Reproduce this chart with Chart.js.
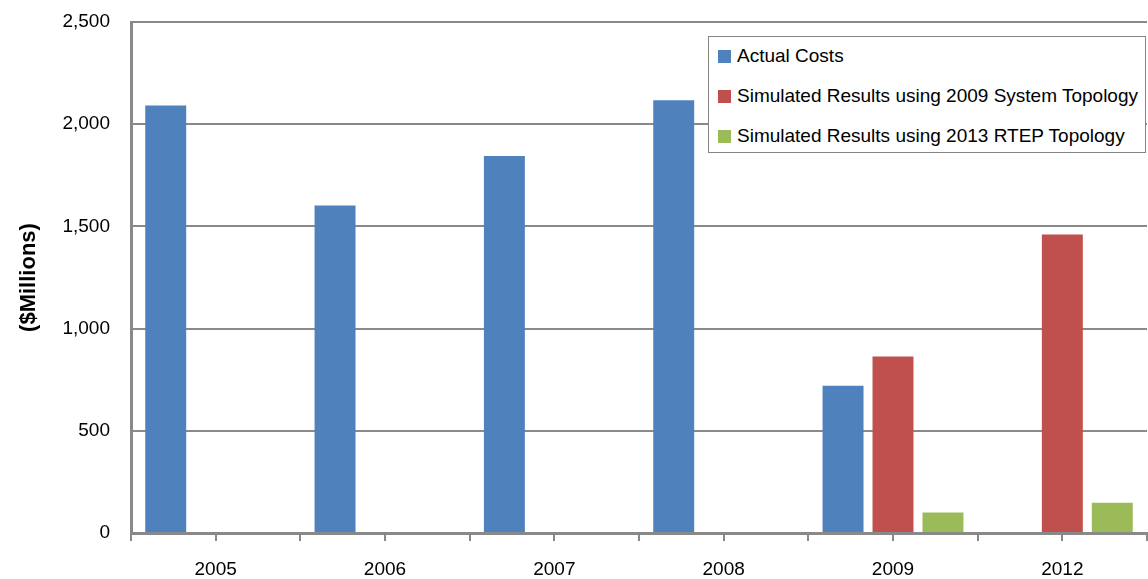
<!DOCTYPE html>
<html>
<head>
<meta charset="utf-8">
<script src="https://cdn.jsdelivr.net/npm/chart.js@4"></script>
<style>
  html, body { margin: 0; padding: 0; background: #fff; }
  #wrap { position: relative; width: 1148px; height: 579px; }
  #legend {
    position: absolute; left: 708px; top: 36px; width: 438px; height: 117px;
    border: 1px solid #858585; background: #fff; box-sizing: border-box;
    font-family: "Liberation Sans", Arial, sans-serif;
    font-size: 19px; color: #000; white-space: nowrap;
  }
  .row { display: flex; align-items: center; height: 40px; padding-left: 9px; }
  .row:first-child { margin-top: -1px; }
  .sw { width: 13px; height: 13px; margin-right: 6px; flex: none; }
</style>
</head>
<body>
<div id="wrap">
  <canvas id="chart" width="1148" height="579"></canvas>
  <div id="legend"></div>
</div>
<script>
const FONT = '"Liberation Sans", Arial, sans-serif';

const categories = ["2005", "2006", "2007", "2008", "2009", "2012"];
const actualCosts = [2092, 1602, 1845, 2117, 720, null];
const sim2009Topology = [null, null, null, null, 864, 1460];
const sim2013Rtep = [null, null, null, null, 100, 148];
const yTickValues = [0, 500, 1000, 1500, 2000, 2500];

const seriesNames = [
  "Actual Costs",
  "Simulated Results using 2009 System Topology",
  "Simulated Results using 2013 RTEP Topology",
];
const seriesColors = ["#4F81BD", "#C0504D", "#9BBB59"];
const gridGray = "#898989";

// extra tick marks under each category centre (reference has both)
const centerTicks = {
  id: "centerTicks",
  afterDraw(chart) {
    const x = chart.scales.x;
    const ctx = chart.ctx;
    ctx.save();
    ctx.strokeStyle = gridGray;
    ctx.lineWidth = 2;
    ctx.beginPath();
    x.ticks.forEach((t, i) => {
      const px = Math.round(x.getPixelForTick(i));
      ctx.moveTo(px, x.top);
      ctx.lineTo(px, x.top + 8);
    });
    ctx.stroke();
    ctx.restore();
  },
};

function buildLegend() {
  const el = document.getElementById("legend");
  el.innerHTML = seriesNames
    .map((n, i) => `<div class="row"><span class="sw" style="background:${seriesColors[i]}"></span>${n}</div>`)
    .join("");
}

function buildChart() {
  const ctx = document.getElementById("chart");
  const datasets = [actualCosts, sim2009Topology, sim2013Rtep].map((d, i) => ({
    label: seriesNames[i],
    data: d,
    backgroundColor: seriesColors[i],
    categoryPercentage: 0.885,
    barPercentage: 0.82,
  }));

  new Chart(ctx, {
    type: "bar",
    data: { labels: categories, datasets },
    plugins: [centerTicks],
    options: {
      responsive: false,
      animation: false,
      devicePixelRatio: 1,
      layout: { padding: { top: 22, right: 1, left: 0, bottom: 0 } },
      plugins: { legend: { display: false }, tooltip: { enabled: false } },
      scales: {
        x: {
          grid: {
            offset: true,
            drawOnChartArea: false,
            tickLength: 8,
            color: gridGray,
            lineWidth: 2,
          },
          border: { display: true, color: gridGray, width: 3 },
          ticks: { color: "#000", font: { family: FONT, size: 19 }, padding: 17, maxRotation: 0 },
          afterFit: (s) => { s.height = 46; },
        },
        y: {
          min: 0,
          max: 2500,
          afterBuildTicks: (s) => { s.ticks = yTickValues.map((v) => ({ value: v })); },
          grid: { color: gridGray, lineWidth: 2, drawTicks: false },
          border: { display: true, color: gridGray, width: 3 },
          ticks: {
            color: "#000",
            font: { family: FONT, size: 19 },
            padding: 21,
            callback: (v) => Number(v).toLocaleString("en-US"),
          },
          title: {
            display: true,
            text: "($Millions)",
            color: "#000",
            font: { family: FONT, size: 22, weight: "bold" },
            padding: { top: 16, bottom: 0 },
          },
          afterFit: (s) => {
            s.width = 131;
            // tick padding would otherwise push the plot down
            s.paddingTop = 0;
            s.paddingBottom = 0;
          },
        },
      },
    },
  });
}

buildLegend();
buildChart();
</script>
</body>
</html>
